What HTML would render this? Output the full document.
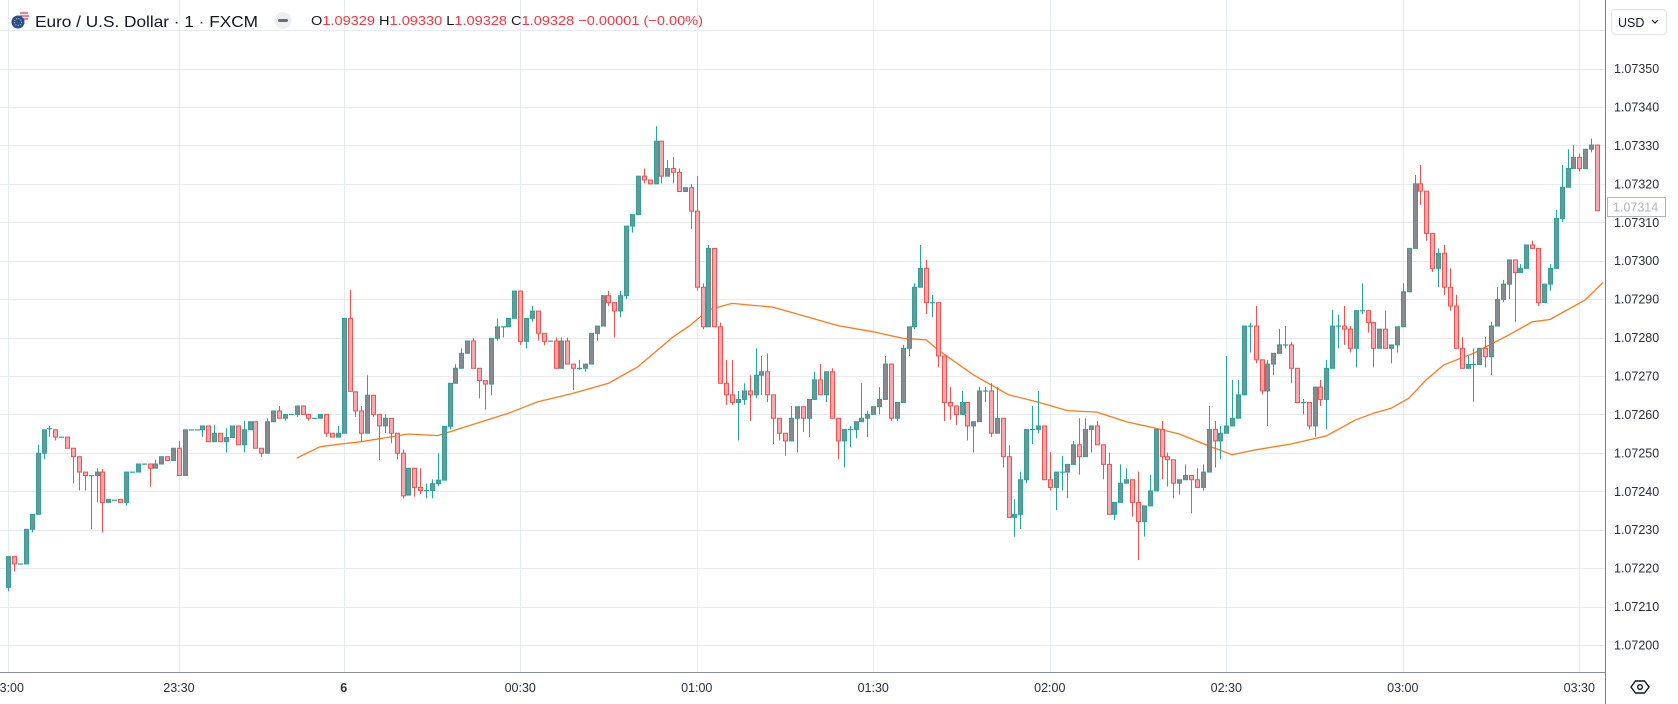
<!DOCTYPE html>
<html><head><meta charset="utf-8">
<style>
html,body{margin:0;padding:0;background:#fff;}
svg{display:block;font-family:"Liberation Sans",sans-serif;}
</style></head>
<body>
<svg id="chart" width="1678" height="704" viewBox="0 0 1678 704" xmlns="http://www.w3.org/2000/svg">
  <rect x="0" y="0" width="1678" height="704" fill="#ffffff"/>
  <g id="grid"></g>
  <g id="ma"></g>
  <g id="candles"></g>
  <g id="yaxis"></g>
  <g id="xaxis"></g>
  <line x1="1605.5" y1="0" x2="1605.5" y2="704" stroke="#7a7d87" stroke-width="1"/>
  <line x1="0" y1="672.5" x2="1605" y2="672.5" stroke="#8a8e97" stroke-width="1"/>
  <g>
    <rect x="1611.5" y="9.5" width="55" height="25" rx="4" fill="#fff" stroke="#e0e3eb"/>
    <text x="1618" y="27" font-size="12.5" fill="#131722">USD</text>
    <path d="M1652 20 l3 3 l3 -3" fill="none" stroke="#131722" stroke-width="1.2"/>
  </g>
  <g>
    <rect x="1607.5" y="197.5" width="58" height="19" fill="#fff" stroke="#b2b5be"/>
    <text x="1613" y="211.5" font-size="12.5" fill="#b2b5be">1.07314</text>
  </g>
  <g>
    <path d="M1631 687 l4.5 -6 h9 l4.5 6 l-4.5 6 h-9 z" fill="none" stroke="#131722" stroke-width="1.4"/>
    <circle cx="1640" cy="687" r="2.3" fill="none" stroke="#131722" stroke-width="1.4"/>
  </g>
  <g>
    <g>
      <circle cx="24" cy="16" r="5" fill="#e8eef8"/>
      <path d="M20 13 h8 M20 16 h9 M21 19 h7" stroke="#e8454f" stroke-width="1.3"/>
      <circle cx="18" cy="22" r="6.5" fill="#1f4fa3"/>
      <circle cx="18" cy="22" r="3.5" fill="none" stroke="#f7c843" stroke-width="1" stroke-dasharray="1 1.4"/>
    </g>
    <text x="35" y="27" font-size="16" fill="#131722" textLength="223" lengthAdjust="spacingAndGlyphs">Euro / U.S. Dollar · 1 · FXCM</text>
    <g>
      <circle cx="283" cy="20.5" r="8.5" fill="#eceef2"/>
      <rect x="278" y="19" width="10" height="3" rx="1.5" fill="#6a6d78"/>
    </g>
    <text x="311" y="25" font-size="13" fill="#131722" textLength="392" lengthAdjust="spacingAndGlyphs">O<tspan fill="#f23645">1.09329</tspan> H<tspan fill="#f23645">1.09330</tspan> L<tspan fill="#f23645">1.09328</tspan> C<tspan fill="#f23645">1.09328</tspan> <tspan fill="#f23645">−0.00001 (−0.00%)</tspan></text>
  </g>
</svg>
<script>
// values in points of 0.00001 above 1.07200
const opens=[15,23,21.1,21.1,30.1,34,49.9,56,56,54.1,
54.1,51.2,49,45,44.1,44.1,45,37.1,37.7,37.9,
37.1,45,45,47.1,47.1,46,47.1,49,48,51.2,
44.1,56,56,56,57,52.9,55.1,52.9,54,57,
52.1,56,58.1,51.2,49.9,58.1,60.9,59,60,60,
62.2,60,59,59,60,55.1,54.1,55.1,85,65.9,
60.9,55.1,65,60,57,59,55.1,49.9,39,46,
41,40.2,40.2,42,42.9,56.9,68.1,72,75.9,79.1,
72,68.8,67.9,79.8,82.8,82.8,85,92.1,79,85,
86.9,81.1,79.1,79.1,72,79.1,73.1,72,72,73.1,
81.1,83,90.9,89.1,86.9,90.9,109,112,122,121,
120,131.1,122,124,123,118,119,112.9,93.1,82.8,
103.2,82.8,68.1,65.1,63.1,63.9,66.1,65.1,70.2,71.1,
65.1,59,55.1,53.1,59,62,59,63.9,69,65.1,
71.1,59,53.1,56.1,56.1,58.1,59,60,62,63.9,
73.1,59,63.1,77.2,82.8,93.1,98,89.1,89.1,75.2,
63.1,62.2,60,63.1,57,58.1,66.1,66.1,55.1,59,
49,33.2,34,43,56.1,56.1,57,43,41,45,
45,47,52.1,49,56.1,57,52.1,47,34,37.1,
42.1,43,37.1,32.1,36.2,40.1,56.1,49,48.2,42.1,
43,44.1,43,41,45,56.1,53.1,55.1,57,59,
65.1,83,83,74.2,66.1,73.1,75.9,78.1,78.1,72,
63.1,63.1,57,67.1,63.9,72,83,83,82.2,77.2,
87,87,83.9,77.2,82.2,77.2,78.1,82.8,91.9,103.2,
120,118.1,107.1,98,101.9,93.1,88.2,77.2,72,73,
73,77.2,75,83,89.9,93.9,100.2,96.9,98,104.1,
103.2,89.1,93.9,98,111,119.1,124,126.9,124,129,130.1];
const highs=[23,23,21.1,30.1,34,52.1,56,57,56,54.1,
54.1,51.2,49,45,44.1,46,45.8,37.9,37.7,37.9,
45,45,47.1,47.1,47.1,48.2,49,49,51.2,53.1,
56,56,56,57,57,57.2,55.1,56.4,57,57,
58.3,58.1,58.1,51.2,59,60.9,62.2,60,60,62.2,
62.2,60,59,60,60,55.1,57,85,92.4,65.9,
62.2,70.2,65,60,60.1,59,55.1,50.9,46,46,
46,42,43.1,49.9,56.9,68.1,73.1,77.2,79.1,79.9,
72,68.8,79.8,85,82.8,85,92.1,92.1,85,88.2,
86.9,81.1,79.1,80,80,80,73.1,74.2,73.1,81.1,
83,90.9,92.1,89.1,92.1,109,112,122,124,121,
135,131.1,126.2,127,124,119,120,122,94.1,104.1,
103.2,83.9,74.2,74.2,66.1,68.1,70.2,77.2,75.2,75.9,
65.1,59,55.1,62.2,62,62,63.9,71.1,73.1,71.1,
72,59,56.1,57,58.1,68.1,61,62,67.1,75.2,
73.1,63.1,78.1,82.8,94.1,104.1,100.2,91.1,89.1,75.2,
67.1,62.2,66.1,63.1,58.1,67.2,67.1,68.1,67.1,59,
52,37.9,45.1,56.1,62.2,66.1,57,50.2,45,49.2,
47,53.1,59,59,57,58.3,52.1,50.1,37.1,47,
46,43,45.1,36.2,44.3,56.1,58.3,50.1,48.2,43,
47,44.1,46,47,62.2,58.3,57,75.2,69,69,
83,83.9,88.2,74.2,74.2,75.9,82.2,83,78.9,72,
64,63.1,67.1,69,74.2,87.2,86,88.2,83,87,
94.1,87,83.9,82.2,87,78.1,82.8,94.1,103.2,122.3,
124.9,118.1,107.1,103.2,104.1,98,91.1,80.1,75.2,77.2,
77.2,80.1,84.1,93.2,95,100.2,100.2,99.1,104.1,105.2,
103.2,93.9,99.1,113.2,124.9,129,130.1,127.9,129,131.8,130.1];
const lows=[14,19.1,21.1,21.1,29.3,34,48.3,54.2,53.2,54.1,
51.2,42.1,40.2,40.2,30.1,37.1,29.3,37.1,37.7,37.1,
36.3,45,45,47.1,41.2,46,47.1,48,48,44.1,
44.1,56,56,54.2,52.9,52.9,52.9,50.1,54,52.1,
50.1,56,51.2,49,49.9,58.1,59,58.4,60,59.4,
60,58.4,59,59,54.2,54.1,54.1,55.1,66,59.4,
52.9,55.1,59.4,48.1,55.1,52.5,48.3,38.2,39,38.6,
39.3,38.2,38.2,41.3,42.9,56.1,68.1,72,75.9,72,
64.2,61.2,65,79.2,80,82.8,85,78.1,77.2,84.1,
79.2,78,79.1,72,72,73.1,66.4,71.6,71.1,73.1,
79.2,83,88.2,80,85.3,90,107.3,112,120.1,120,
120,120.1,122,120.1,118,118,108.2,92.2,82.2,82.8,
82.8,68.1,62.5,62.5,53.2,62.5,58.3,64.2,65.1,63.2,
52.3,53.2,49.2,53.1,50.1,55.4,54.1,63.9,65.1,63.2,
59,48.3,46.2,51.4,53.8,58.1,54.1,60,60,63.9,
58.3,58.3,63.1,75.2,82.2,93.1,86.1,85.3,72.2,58.3,
58.6,57.3,60,53.2,50.1,58.1,63.2,54.1,55.1,46.2,
33.2,28.2,30.2,42.1,52.3,55.1,43,40.2,35.1,40.2,
38.2,47,44.3,49,50.1,52.1,43.1,34,32.5,37.1,
42.1,33.4,22.1,28.2,36.2,40.1,43.1,41.2,38.2,39.2,
43,34.3,41,40.2,45,46.2,48.3,55.1,57,59,
65.1,76.1,73.3,65.2,57,70.3,75.9,77.2,68.1,63.1,
60,56.1,54.2,62.2,56.1,72,77.2,78.1,76.1,72.2,
86.1,81.3,72.2,77.2,77.2,73.3,76.1,82.8,91.9,103.2,
114.5,105.2,97.1,93.2,91.1,87,77.2,72,72,63.3,
73,72.2,70.3,83,89.2,90,84.1,96.9,98,103.2,
88.2,89.1,92.2,98,110.1,119.1,124,123.2,124,128.2,113];
const closes=[23,21.1,21.1,30.1,34,49.9,56,56.3,54.1,54.1,
51.2,49,45,44.1,44.1,45,37.1,37.9,37.7,37.1,
45,45,47.1,47.1,46,47.1,49,48,51.2,44.1,
56,56,56,57,52.9,55.1,52.9,54,57,52.1,
56,58.1,51.2,49.9,58.1,60.9,59,60,60,62.2,
60,59,59,60,55.1,54.1,55.1,85,66,60.9,
55.1,65,60,57,59,55.1,49.9,38.8,46,41,
40.2,40.2,42,42.9,56.9,68.1,72,75.9,79.1,72,
68.8,67.9,79.8,82.8,82.8,85,92.1,79,85,86.9,
81.1,79,79.1,72,79.1,73.1,72,72,73.1,81.1,
83,90.9,89.1,86.9,90.9,109,112,122,121,120,
131.1,122,124,123,118,119,112.9,93.1,82.8,103.2,
82.8,68.1,65.1,63.1,63.9,66.1,65.1,70.2,71.1,65.1,
59,55.1,53.1,59,62,59,63.9,69,65.1,71.1,
59,53.1,56.1,56.1,58.1,59,60,62,63.9,73.1,
59,63.1,77.2,82.8,93.1,98,89.1,89.1,75.2,63.1,
62.2,60,63.1,57,58.1,66.1,66.1,55.1,59,49,
33.2,34,43,56.1,56.1,57,43,41,45,45,
47,52.1,49,56.1,57,52.1,47,34,37.1,42.1,
43,37.1,32.1,36.2,40.1,56.1,49,48.2,42.1,43,
44.1,43,41,45,56.1,53.1,55.1,57,59,65.1,
83,83,74.2,66.1,73.1,75.9,78.1,78.1,72,63.1,
63.1,57,67.1,63.9,72,83,83,82.2,77.2,87,
87,83.9,77.2,82.2,77.2,78.1,82.8,91.9,103.2,120,
118.1,107.1,98,101.9,93.1,88.2,77.2,72,73,73,
77.2,75,83,89.9,93.9,100.2,96.9,98,104.1,103.2,
89.1,93.9,98,111,119.1,124,126.9,124,129,130.1,113];
const maBars=[50,54,57,61,69,74,80,86,91,97,103,108,114,117,120,124,131,137,142,148,153,157,159,165,171,176,181,186,191,196,200,205,209,213,219,225,230,233,236,239,242,245,250,256,260,263,269,272];
const maValues=[48.6,51.6,52.2,52.9,54.9,54.5,57.4,60.3,63.3,65.5,68.1,72.4,80.2,83.3,87.2,88.9,87.9,85.3,83.1,81.5,79.8,79.4,76.8,70.3,65.1,63.2,61,60.6,58.1,56.4,54.9,51.8,49.5,50.8,52.3,54.4,58.6,60.3,61.6,64.2,69,72.9,75.9,80.7,84.1,84.7,89.8,94.3];
const priceTicks=[1.0735,1.0734,1.0733,1.0732,1.0731,1.073,1.0729,1.0728,1.0727,1.0726,1.0725,1.0724,1.0723,1.0722,1.0721,1.072];
const priceTickLabels=["1.07350","1.07340","1.07330","1.07320","1.07310","1.07300","1.07290","1.07280","1.07270","1.07260","1.07250","1.07240","1.07230","1.07220","1.07210","1.07200"];
const timeTickBars=[1,30,58,88,118,148,178,208,238,268];
const timeTickLabels=["23:00","23:30","6","00:30","01:00","01:30","02:00","02:30","03:00","03:30"];

const NS="http://www.w3.org/2000/svg";
function xBar(i){return 8.3+(i-1)*5.884;}
function yPts(v){return 645-v*3.843;}
function yPrice(p){return 645-(p-1.072)*384300;}
function mk(tag,attrs,parent){const e=document.createElementNS(NS,tag);for(const k in attrs)e.setAttribute(k,attrs[k]);parent.appendChild(e);return e;}

const grid=document.getElementById('grid');
const extraGrid=[1.0736];
extraGrid.concat(priceTicks).forEach(function(p){
  const y=Math.round(yPrice(p))+0.5;
  const l=mk('line',{x1:0,x2:1605,y1:y,y2:y,stroke:'#e6ebf2','stroke-width':1},grid);
  
  
});
timeTickBars.forEach(function(b){
  const x=Math.round(xBar(b))+0.5;
  const l=mk('line',{x1:x,x2:x,y1:0,y2:672,stroke:'#e6ebf2','stroke-width':1},grid);
  
  
});

const yaxis=document.getElementById('yaxis');
priceTicks.forEach(function(p,i){
  const t=mk('text',{x:1614,y:yPrice(p)+4.5,'font-size':12.5,fill:'#2a2e39'},yaxis);
  t.textContent=priceTickLabels[i];
  
  
});
const xaxis=document.getElementById('xaxis');
timeTickBars.forEach(function(b,i){
  const t=mk('text',{x:xBar(b),y:692,'font-size':12.5,fill:'#2a2e39','text-anchor':'middle','font-weight':timeTickLabels[i]==='6'?'bold':'normal'},xaxis);
  t.textContent=timeTickLabels[i];
  
  
});

const ma=document.getElementById('ma');
let d='';
maBars.forEach(function(b,i){d+=(i?'L':'M')+xBar(b).toFixed(1)+' '+yPts(maValues[i]).toFixed(1);});
const maPath=mk('path',{d:d,fill:'none',stroke:'#ff7a1a','stroke-width':1.3,'stroke-linejoin':'round'},ma);



const cg=document.getElementById('candles');
for(let i=0;i<closes.length;i++){
  const bar=i+1;
  const x=Math.round(xBar(bar));
  const o=opens[i],c=closes[i],h=highs[i],lo=lows[i];
  const up=c>=o;
  const g=mk('g',{},cg);
  
  
  const wickCol=up?'#26a69a':'#ef5350';
  mk('line',{x1:x+0.5,x2:x+0.5,y1:yPts(h),y2:yPts(lo),stroke:wickCol,'stroke-width':1},g);
  const yt=yPts(Math.max(o,c)),yb=yPts(Math.min(o,c));
  if(yb-yt<1.2){
    mk('rect',{x:x-2,y:yt-0.5,width:5,height:1.2,fill:'#26a69a'},g);
  }else{
    mk('rect',{x:x-1.5,y:yt,width:4,height:yb-yt,fill:up?'#868b90':'#f7a9b1',stroke:wickCol,'stroke-width':1},g);
  }
}
</script>
</body></html>
